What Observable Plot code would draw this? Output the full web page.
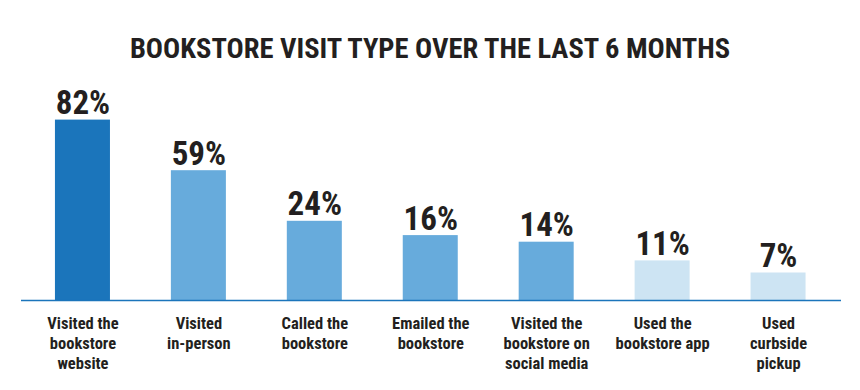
<!DOCTYPE html>
<html>
<head>
<meta charset="utf-8">
<script src="https://cdn.jsdelivr.net/npm/d3@7"></script>
<script src="https://cdn.jsdelivr.net/npm/@observablehq/plot@0.6"></script>
<style>
  html, body { margin: 0; padding: 0; background: #fff; }
  #title {
    box-sizing: border-box; height: 80px; padding-top: 35px; width: 860px;
    text-align: center; font-family: "Roboto Condensed", "DejaVu Sans Condensed", sans-serif;
    font-weight: 700; font-size: 28.5px; line-height: 28px; color: #231f20;
  }
  #chart svg { display: block; }
</style>
</head>
<body>
<div id="title">BOOKSTORE VISIT TYPE OVER THE LAST 6 MONTHS</div>
<div id="chart"></div>
<script>
// Category tick labels (line breaks as in the reference)
const categories = [
  "Visited the\nbookstore\nwebsite",
  "Visited\nin-person",
  "Called the\nbookstore",
  "Emailed the\nbookstore",
  "Visited the\nbookstore on\nsocial media",
  "Used the\nbookstore app",
  "Used\ncurbside\npickup"
];
// Percent values printed above the bars
const percents = [82, 59, 24, 16, 14, 11, 7];
// Bar lengths as drawn in the reference (the picture is not to scale; same units as 82% for the first bar)
const barLength = [82, 59, 36, 29.5, 26.5, 18, 12.5];
// Colour tier of each bar
const tier = ["highlight", "mid", "mid", "mid", "mid", "low", "low"];

const data = categories.map((c, i) => ({
  category: c, percent: percents[i], length: barLength[i], tier: tier[i]
}));

const font = '"Roboto Condensed", "DejaVu Sans Condensed", sans-serif';

const chart = Plot.plot({
  width: 860,
  height: 310,
  marginTop: 0,
  marginBottom: 90,
  marginLeft: 24.5,
  marginRight: 24,
  style: { fontFamily: font, color: "#231f20", background: "#fff" },
  x: { domain: categories, paddingInner: 0.5255, paddingOuter: 0.2626, round: false, label: null },
  y: { domain: [0, 100], axis: null },
  color: { domain: ["highlight", "mid", "low"], range: ["#1b75bb", "#67abdc", "#cde4f3"] },
  marks: [
    Plot.barY(data, { x: "category", y: "length", fill: "tier" }),
    Plot.ruleY([0], { stroke: "#1b75bb", strokeWidth: 1.5, insetLeft: -3.5, insetRight: -5 }),
    Plot.text(data, {
      x: "category", y: "length", text: d => d.percent + "%",
      dy: -6, lineAnchor: "bottom", fontSize: 33, fontWeight: 700, fill: "#231f20"
    }),
    Plot.axisX({
      tickSize: 0, tickPadding: 14, fontSize: 16.5, fontWeight: 700,
      lineHeight: 1.21, label: null, fill: "#231f20"
    })
  ]
});
document.getElementById("chart").appendChild(chart);
</script>
</body>
</html>
